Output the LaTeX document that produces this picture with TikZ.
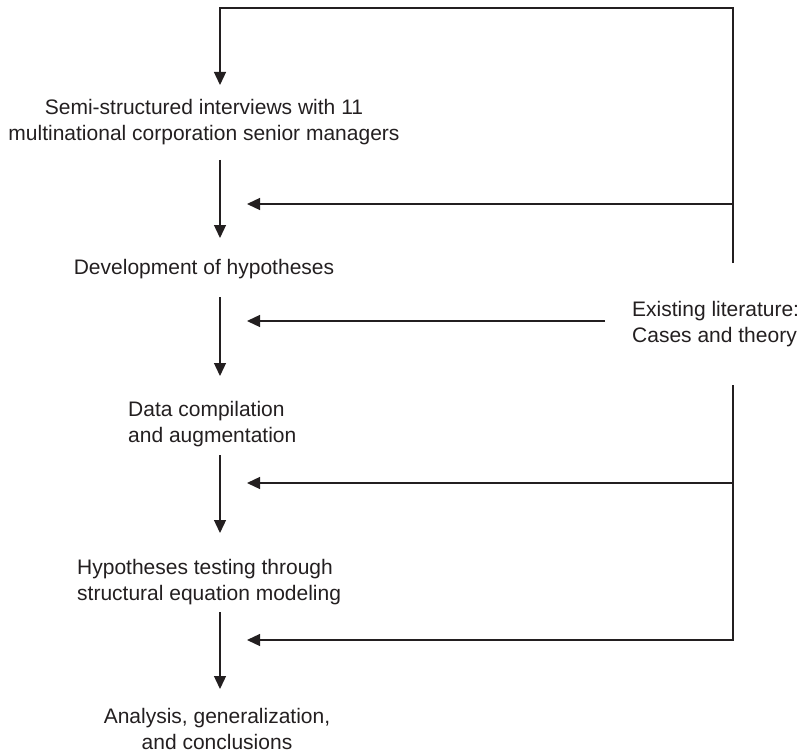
\documentclass[tikz,border=0pt]{standalone}
\usepackage{fontspec}
\setmainfont{Liberation Sans}
\usetikzlibrary{arrows.meta}
\definecolor{ink}{RGB}{35,31,32}

\tikzset{
  wire/.style={draw=ink, line width=1.3pt},
  flow/.style={wire, -{Triangle[width=12pt,length=13pt]}},
  stage/.style={font=\fontsize{21}{26}\selectfont, text=ink, inner sep=0pt, align=center},
  stageleft/.style={stage, anchor=west, align=left}
}

\begin{document}
\begin{tikzpicture}[x=1pt,y=-1pt]
            \useasboundingbox (0,0) rectangle (808,754);

            % stages down the left
            \node[stage] (interviews) at (204,122) {Semi-structured interviews with 11\\multinational corporation senior managers};
            \node[stage] (develop) at (204,269) {Development of hypotheses};
            \node[stageleft] (compile) at (128,424) {Data compilation\\and augmentation};
            \node[stageleft] (testing) at (77,582) {Hypotheses testing through\\structural equation modeling};
            \node[stage] (analysis) at (217,729) {Analysis, generalization,\\and conclusions};

            % literature on the right
            \node[stageleft] (literature) at (632,324) {Existing literature:\\Cases and theory};

            % points on the main axis
            \coordinate (corner) at (220,8);
            \coordinate (tip0) at (220,85);
            \coordinate (out1) at (220,160);
            \coordinate (tip1) at (220,238);
            \coordinate (out2) at (220,297);
            \coordinate (tip2) at (220,376);
            \coordinate (out3) at (220,455);
            \coordinate (tip3) at (220,533);
            \coordinate (out4) at (220,612);
            \coordinate (tip4) at (220,689);

            % points on the rail
            \coordinate (railtop) at (733,263);
            \coordinate (railbot) at (733,385);
            \coordinate (feed1) at (247,204);
            \coordinate (feed2) at (247,321);
            \coordinate (feed3) at (247,483);
            \coordinate (feed4) at (247,640);

            \draw[flow] (railtop) |- (corner) -- (tip0);
            \draw[flow] (out1) -- (tip1);
            \draw[flow] (out2) -- (tip2);
            \draw[flow] (out3) -- (tip3);
            \draw[flow] (out4) -- (tip4);

            \draw[flow] (feed1 -| railtop) -- (feed1);
            \draw[flow] ([xshift=-27pt]literature.west |- feed2) -- (feed2);
            \draw[flow] (feed3 -| railbot) -- (feed3);
            \draw[flow] (railbot) |- (feed4);
        \end{tikzpicture}
\end{document}
